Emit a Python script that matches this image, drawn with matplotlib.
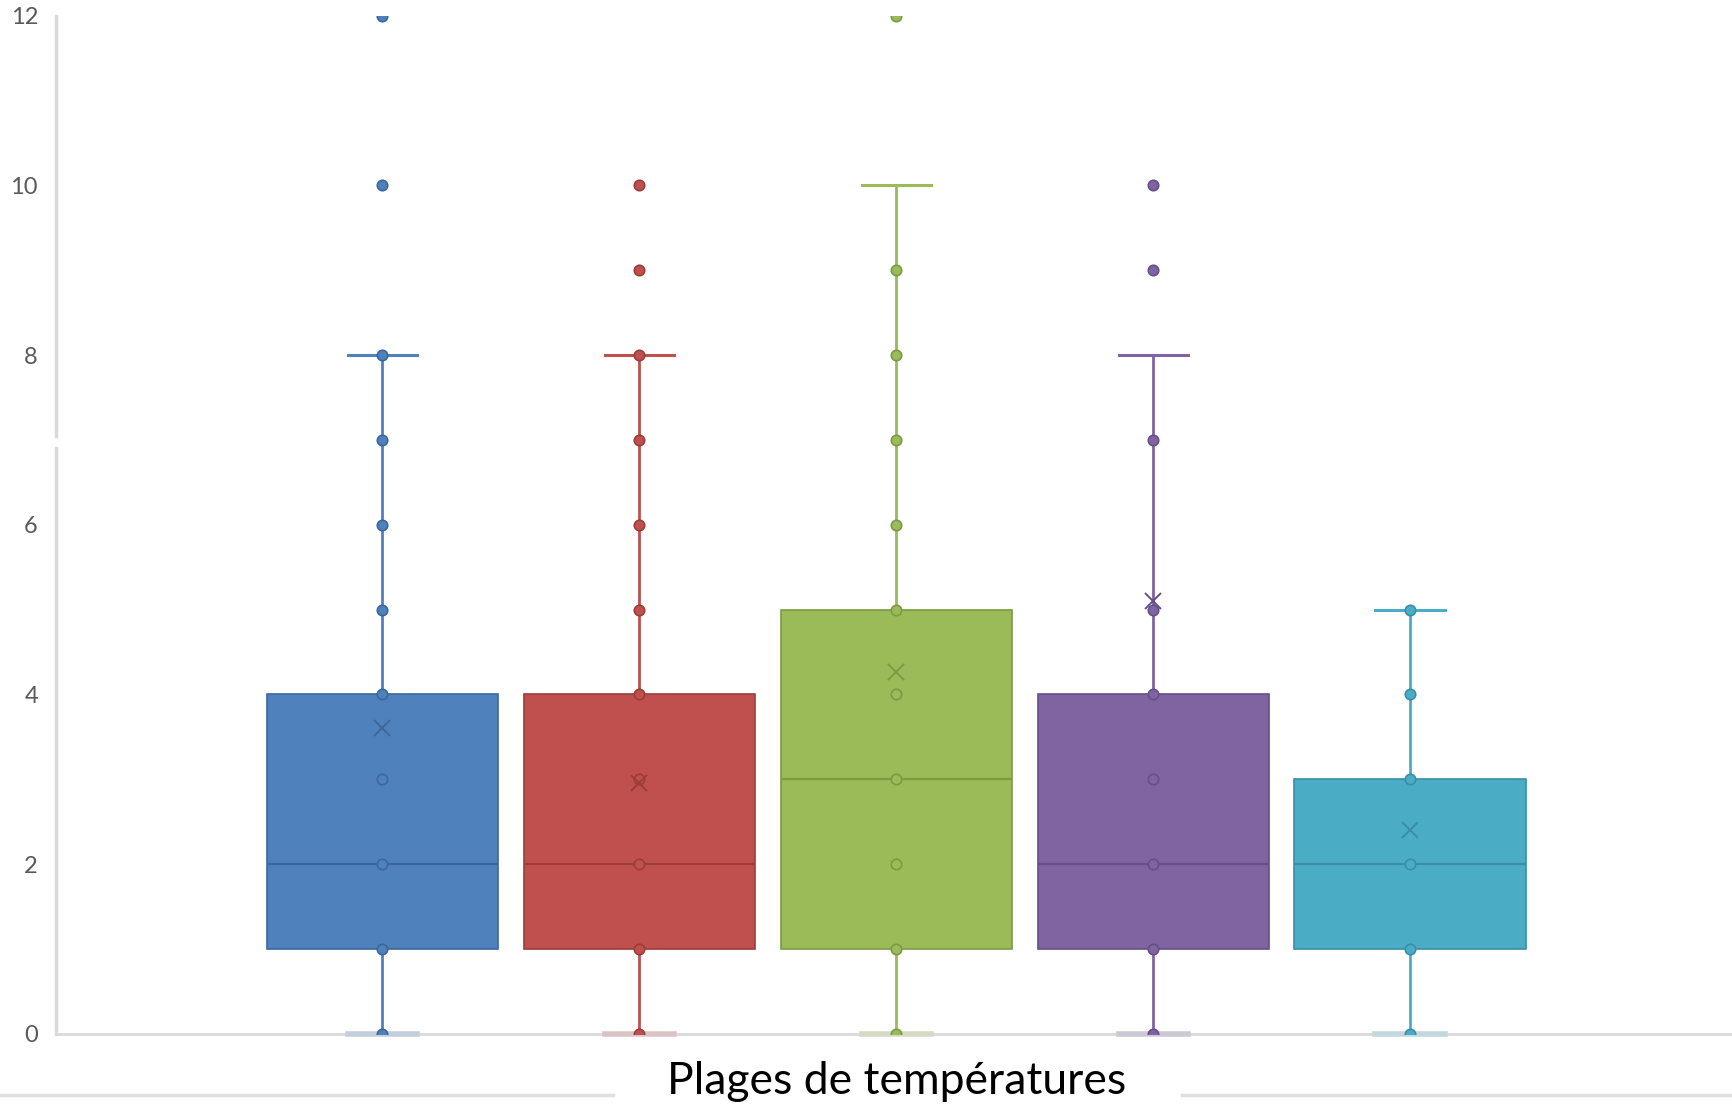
import numpy as np
import matplotlib
matplotlib.use("Agg")
import matplotlib.pyplot as plt
from matplotlib import colors as mcolors

plt.rcParams['font.family'] = ['Lato', 'DejaVu Sans']

# one box per temperature range (Excel box & whisker)
series = ["plage 1", "plage 2", "plage 3", "plage 4", "plage 5"]
q1 = [1, 1, 1, 1, 1]
medians = [2, 2, 3, 2, 2]
q3 = [4, 4, 5, 4, 3]
whisk_lo = [0, 0, 0, 0, 0]
whisk_hi = [8, 8, 10, 8, 5]
means = [3.61, 2.96, 4.26, 5.10, 2.40]

pts_1 = [0, 1, 2, 3, 4, 5, 6, 7, 8, 10, 12]
pts_2 = [0, 1, 2, 3, 4, 5, 6, 7, 8, 9, 10]
pts_3 = [0, 1, 2, 3, 4, 5, 6, 7, 8, 9, 12]
pts_4 = [0, 1, 2, 3, 4, 5, 7, 9, 10]
pts_5 = [0, 1, 2, 3, 4, 5]
points = [pts_1, pts_2, pts_3, pts_4, pts_5]

fills = ["#4f81bd", "#c0504d", "#9bbb59", "#8064a2", "#4bacc6"]
darks = ["#3c679c", "#9b3d3a", "#7b9a44", "#654f86", "#3a8ea6"]

yticks = [0, 2, 4, 6, 8, 10, 12]
title = "Plages de températures"

grid_grey = "#d9d9d9"
text_grey = "#595959"


def blend(col, other, t):
    a = np.array(mcolors.to_rgb(col))
    b = np.array(mcolors.to_rgb(other))
    return tuple(a * t + b * (1 - t))


fig = plt.figure(figsize=(17.33, 11.10), dpi=100)
ax = fig.add_axes([0.0323, 0.0685, 0.9677, 0.9175])

positions = np.arange(1, len(series) + 1)
stats = []
for i, name in enumerate(series):
    stats.append(dict(label=name, q1=q1[i], med=medians[i], q3=q3[i],
                      whislo=whisk_lo[i], whishi=whisk_hi[i], mean=means[i],
                      fliers=[]))

bp = ax.bxp(stats, positions=positions, widths=0.9, capwidths=0.27,
            patch_artist=True, showmeans=True, showfliers=False)

for i in range(len(series)):
    box = bp['boxes'][i]
    box.set_facecolor(fills[i])
    box.set_edgecolor(darks[i])
    box.set_linewidth(1.2)
    box.set_zorder(2)
    bp['medians'][i].set(color=darks[i], linewidth=1.6, zorder=3)
    for w in bp['whiskers'][2 * i:2 * i + 2]:
        w.set(color=fills[i], linewidth=2.0, zorder=1)
    lo_cap, hi_cap = bp['caps'][2 * i], bp['caps'][2 * i + 1]
    hi_cap.set(color=fills[i], linewidth=2.2, zorder=1)
    lo_cap.set(color=blend(fills[i], "#e4e4e4", 0.22), linewidth=4,
               zorder=1, clip_on=False)
    bp['means'][i].set(marker='x', markersize=11, markeredgewidth=1.4,
                       markeredgecolor=darks[i], zorder=5)

    ys = np.array(points[i], dtype=float)
    ax.plot(np.full(len(ys), positions[i]), ys, linestyle='none', marker='o',
            markersize=7.5, markerfacecolor=fills[i], markeredgecolor=darks[i],
            markeredgewidth=1.2, zorder=4)

ax.set_xlim(-0.271, 6.257)
ax.set_ylim(0, 12)
ax.set_xticks([])
ax.set_yticks(yticks)
ax.set_yticklabels([str(v) for v in yticks])
ax.tick_params(axis='y', length=0, pad=13, labelsize=17, labelcolor=text_grey)

for s in ['top', 'right', 'left']:
    ax.spines[s].set_visible(False)
ax.spines['bottom'].set_color(grid_grey)
ax.spines['bottom'].set_linewidth(2)
ax.spines['bottom'].set_zorder(0)

# left axis line is drawn with a small break, as in the original
ax.axvline(-0.271, ymin=0, ymax=6.9 / 12, color=grid_grey, linewidth=2.5, clip_on=False)
ax.axvline(-0.271, ymin=7.04 / 12, ymax=1, color=grid_grey, linewidth=2.5, clip_on=False)

# chart border line, interrupted by the axis title
y_border = 1 - 1095 / 1110
fig.add_artist(plt.Line2D([0, 0.354], [y_border] * 2, color="#e0e0e0", linewidth=2.5))
fig.add_artist(plt.Line2D([0.682, 1], [y_border] * 2, color="#e0e0e0", linewidth=2.5))
fig.text(0.5175, 1 - 1081 / 1110, title, ha='center', va='center', fontsize=32,
         color='black')

fig.savefig("out.png", dpi=100)
